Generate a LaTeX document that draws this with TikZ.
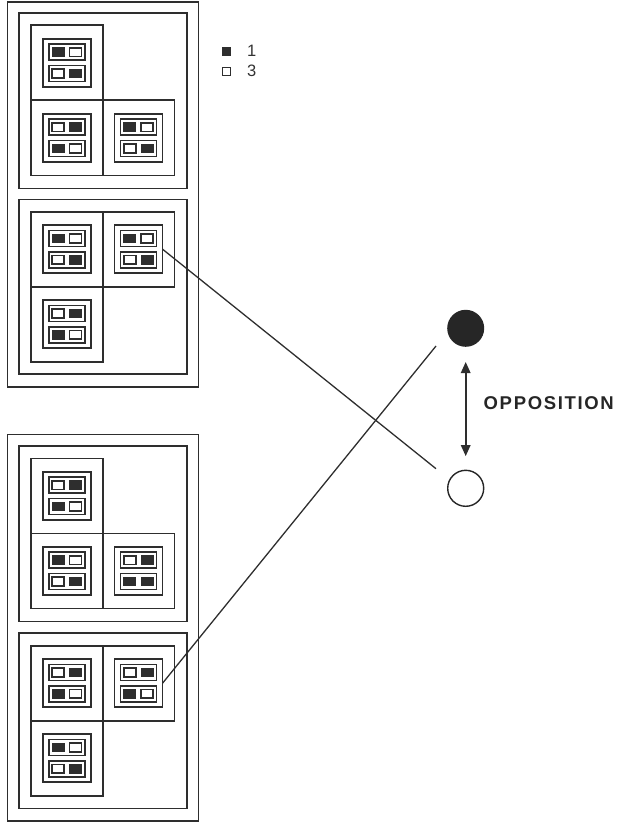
\documentclass[tikz,border=0pt]{standalone}
\usepackage{fontspec}
\setmainfont{Liberation Sans}
\usetikzlibrary{arrows.meta}
\tikzset{
  ln/.style={line width=1.6pt, draw=black!82},
  cellbox/.style={ln, minimum width=71.7pt, minimum height=75pt, inner sep=0pt, outer sep=0pt},
  framebox/.style={ln, minimum width=48pt, minimum height=48pt, inner sep=0pt, outer sep=0pt},
  rowbox/.style={ln, minimum width=36pt, minimum height=15.7pt, inner sep=0pt, outer sep=0pt},
  sqon/.style={draw=black!82, line width=1.2pt, fill=black!82, minimum width=12pt, minimum height=8.7pt, inner sep=0pt},
  sqoff/.style={draw=black!82, line width=1.7pt, fill=white, minimum width=12pt, minimum height=8.7pt, inner sep=0pt},
  keyon/.style={draw=black!82, line width=1pt, fill=black!82, minimum width=8pt, minimum height=7.7pt, inner sep=0pt},
  keyoff/.style={draw=black!82, line width=1.1pt, fill=white, minimum width=8pt, minimum height=7.7pt, inner sep=0pt},
  keytext/.style={anchor=west, inner sep=0pt, text=black!80, font=\fontsize{16.5}{16.5}\selectfont},
  dblarrow/.style={ln, {Triangle[length=11pt, width=9.5pt]}-{Triangle[length=11pt, width=9.5pt]}},
}
\newcommand\mycell[7]{%
  \node[cellbox] (#1) at ({#2+35.85},{#3+37.5}) {};
  \node[framebox] (#1f) at (#1.center) {};
  \node[rowbox] (#1r1) at ([yshift=10.7pt]#1f.center) {};
  \node[rowbox] (#1r2) at ([yshift=-10.7pt]#1f.center) {};
  \node[sq#4] (#1a) at ([xshift=-8.7pt]#1r1.center) {};
  \node[sq#5] (#1b) at ([xshift=8.7pt]#1r1.center) {};
  \node[sq#6] (#1c) at ([xshift=-8.7pt]#1r2.center) {};
  \node[sq#7] (#1d) at ([xshift=8.7pt]#1r2.center) {};
}
\begin{document}
\begin{tikzpicture}[x=1pt, y=-1pt]
\useasboundingbox (0,0) rectangle (629,824);
% Block A
\draw[ln] (7.3,2) rectangle (198.5,386.7);
\draw[ln] (19,13.3) rectangle (186.7,188.3);
\draw[ln] (19,199.3) rectangle (186.7,374);
\mycell{a1}{31}{25.3}{on}{off}{off}{on}
\mycell{a2}{31}{100.3}{off}{on}{on}{off}
\mycell{a3}{102.7}{100.3}{on}{off}{off}{on}
\mycell{a4}{31}{211.7}{on}{off}{off}{on}
\mycell{a5}{102.7}{211.7}{on}{off}{off}{on}
\mycell{a6}{31}{286.7}{off}{on}{on}{off}
% Block B
\draw[ln] (7.3,434.3) rectangle (198.5,821);
\draw[ln] (19,446) rectangle (186.7,621.5);
\draw[ln] (19,633) rectangle (186.7,808.3);
\mycell{b1}{31}{458.3}{off}{on}{on}{off}
\mycell{b2}{31}{533.3}{on}{off}{off}{on}
\mycell{b3}{102.7}{533.3}{off}{on}{on}{on}
\mycell{b4}{31}{645.7}{off}{on}{on}{off}
\mycell{b5}{102.7}{645.7}{off}{on}{on}{off}
\mycell{b6}{31}{720.7}{on}{off}{off}{on}
% Legend
\node[keyon] (k1) at (226.7,51.2) {};
\node[keytext] (k1t) at (247,50.5) {1};
\node[keyoff] (k3) at (226.7,71.3) {};
\node[keytext] (k3t) at (247,70.5) {3};
% Circles
\node[circle, fill=black!85, minimum size=37pt, inner sep=0pt] (pos) at (465.7,328.3) {};
\node[circle, draw=black!85, line width=1.4pt, minimum size=36pt, inner sep=0pt] (neg) at (465.7,488.3) {};
\draw[dblarrow, shorten <=15pt, shorten >=13.5pt] (pos) -- (neg);
\node[anchor=west, inner sep=0pt, text=black!85, font=\bfseries\fontsize{18.5}{18.5}\selectfont\addfontfeatures{LetterSpace=9}] (opp) at (483.5,402.7) {OPPOSITION};
% Connectors
\coordinate (e1) at (436,468.7);
\coordinate (e2) at (436,346);
\draw[ln, line width=1.3pt] (a5f.east) -- (e1);
\draw[ln, line width=1.3pt] (b5f.east) -- (e2);
\end{tikzpicture}
\end{document}
